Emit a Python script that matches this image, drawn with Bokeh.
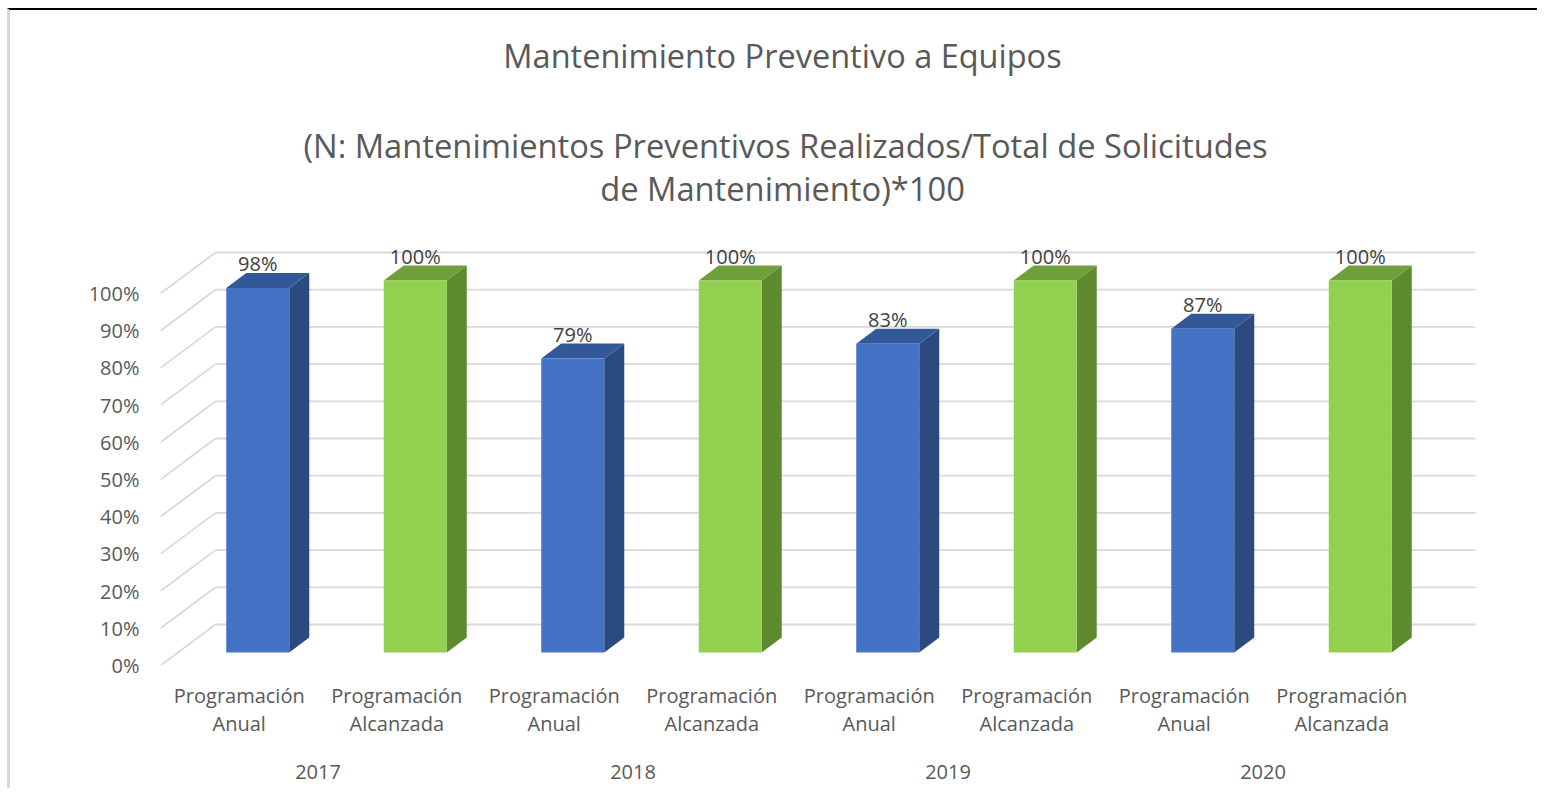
from bokeh.plotting import figure
from bokeh.models import Range1d, LinearAxis, FixedTicker, PrintfTickFormatter, Label
from bokeh.core.properties import value
from bokeh.embed import file_html
from bokeh.resources import INLINE

# ---------------- data ----------------
years = ["2017", "2018", "2019", "2020"]
series = ["Programación Anual", "Programación Alcanzada"]
anual = [98, 79, 83, 87]
alcanzada = [100, 100, 100, 100]
y_ticks = [0, 10, 20, 30, 40, 50, 60, 70, 80, 90, 100]

title1 = "Mantenimiento Preventivo a Equipos"
title2 = "(N: Mantenimientos Preventivos Realizados/Total de Solicitudes"
title3 = "de Mantenimiento)*100"

# ---------------- styling ----------------
FONT = "Open Sans"
AXIS_COLOR = "#595959"
LABEL_COLOR = "#404040"
GRID_COLOR = "#D9D9D9"
FRONT = ["#4472C4", "#92D050"]
TOP = ["#33589A", "#6E9F3B"]
SIDE = ["#2B4A80", "#5E8A2F"]

OX, OY = 10, 10        # page offset of the figure content (margin + border)
W, H = 1530, 780
FRAME_LEFT, FRAME_RIGHT, FRAME_BOTTOM = 160 - OX, 1480 - OX, 665 - OY
ML, MT = FRAME_LEFT, 0
MR, MB = W - FRAME_RIGHT, H - FRAME_BOTTOM
FW, FH = W - ML - MR, H - MT - MB
PX_X = 157.5          # pixels per category
PX_Y = 3.72           # pixels per percent
DEPTH_DX, DEPTH_DY = 55 / PX_X, 41 / PX_Y
BAR_DX, BAR_DY = 18.5 / PX_X, 13 / PX_Y
SIDE_DX, SIDE_DY = 20 / PX_X, 15 / PX_Y
HALF_W = 31.5 / PX_X
LABEL_GAP = 9 / PX_Y

n_cat = len(years) * len(series)

p = figure(width=W, height=H, x_range=Range1d(0, FW / PX_X), y_range=Range1d(0, FH / PX_Y),
           output_backend="svg", toolbar_location=None,
           min_border_left=ML, min_border_right=MR, min_border_top=MT, min_border_bottom=MB,
           x_axis_type=None, y_axis_type=None)
p.styles = {"margin-left": "7px", "margin-top": "8px",
            "border-top": "2px solid #000000", "border-left": "3px solid #D9D9D9"}
p.outline_line_color = None
p.xgrid.visible = False
p.ygrid.visible = False
p.background_fill_color = "white"
p.border_fill_color = "white"

# ---------------- 3D grid (back wall + side wall) ----------------
p.segment(x0=[DEPTH_DX] * len(y_ticks), x1=[n_cat + DEPTH_DX] * len(y_ticks),
          y0=[t + DEPTH_DY for t in y_ticks], y1=[t + DEPTH_DY for t in y_ticks],
          line_color=GRID_COLOR, line_width=1.8)
p.segment(x0=[0] * len(y_ticks), x1=[DEPTH_DX] * len(y_ticks),
          y0=y_ticks, y1=[t + DEPTH_DY for t in y_ticks],
          line_color=GRID_COLOR, line_width=1.8)

# ---------------- bars ----------------
values, sidx = [], []
for yi in range(len(years)):
    values += [anual[yi], alcanzada[yi]]
    sidx += [0, 1]

fl, fr, fb, ft, fc = [], [], [], [], []
sxs, sys_, sc = [], [], []
txs, tys, tc = [], [], []
lx, ly, lt = [], [], []
for k, v in enumerate(values):
    c = k + 0.5
    l = c - HALF_W + BAR_DX
    r = c + HALF_W + BAR_DX
    b = BAR_DY
    t = v + BAR_DY
    fl.append(l); fr.append(r); fb.append(b); ft.append(t); fc.append(FRONT[sidx[k]])
    sxs.append([r, r + SIDE_DX, r + SIDE_DX, r])
    sys_.append([b, b + SIDE_DY, t + SIDE_DY, t])
    sc.append(SIDE[sidx[k]])
    txs.append([l, l + SIDE_DX, r + SIDE_DX, r])
    tys.append([t, t + SIDE_DY, t + SIDE_DY, t])
    tc.append(TOP[sidx[k]])
    lx.append(c + BAR_DX)
    ly.append(t + SIDE_DY + LABEL_GAP)
    lt.append(f"{v}%")

p.patches(xs=sxs, ys=sys_, fill_color=sc, line_color=None)
p.patches(xs=txs, ys=tys, fill_color=tc, line_color=None)
p.quad(left=fl, right=fr, bottom=fb, top=ft, fill_color=fc, line_color=None)

p.text(x=lx, y=ly, text=lt, text_align="center", text_baseline="middle",
       text_font=value(FONT), text_font_size="20px", text_color=LABEL_COLOR)

# ---------------- axes ----------------
yax = LinearAxis(ticker=FixedTicker(ticks=y_ticks), formatter=PrintfTickFormatter(format="%d%%"))
cat_ticks = [k + 0.5 for k in range(n_cat)]
cat_labels = {}
for k in range(n_cat):
    cat_labels[k + 0.5] = series[sidx[k]].replace(" ", "\n")
ax1 = LinearAxis(ticker=FixedTicker(ticks=cat_ticks), major_label_overrides=cat_labels)
year_ticks = [2 * i + 1 for i in range(len(years))]
ax2 = LinearAxis(ticker=FixedTicker(ticks=year_ticks),
                 major_label_overrides={t: y for t, y in zip(year_ticks, years)})

for ax, standoff in ((yax, 21), (ax1, 16), (ax2, 24)):
    ax.axis_line_color = None
    ax.major_tick_line_color = None
    ax.minor_tick_line_color = None
    ax.major_tick_out = 0
    ax.major_tick_in = 0
    ax.major_label_standoff = standoff
    ax.major_label_text_font = FONT
    ax.major_label_text_font_size = "20px"
    ax.major_label_text_color = AXIS_COLOR
ax1.major_label_text_line_height = 1.07

p.add_layout(yax, "left")
p.add_layout(ax1, "below")
p.add_layout(ax2, "below")

# ---------------- titles (inside the white, outline-free frame area) ----------------
for txt, cx, cy, size in ((title1, 782, 55, "32.5px"),
                          (title2, 785, 145, "32.7px"),
                          (title3, 782, 188, "32.7px")):
    p.add_layout(Label(x=(cx - OX - FRAME_LEFT) / PX_X, y=(FRAME_BOTTOM - (cy - OY)) / PX_Y,
                       text=txt, text_align="center", text_baseline="middle", text_font=FONT,
                       text_font_size=size, text_color=AXIS_COLOR))

open("out.html", "w").write(file_html(p, INLINE))
